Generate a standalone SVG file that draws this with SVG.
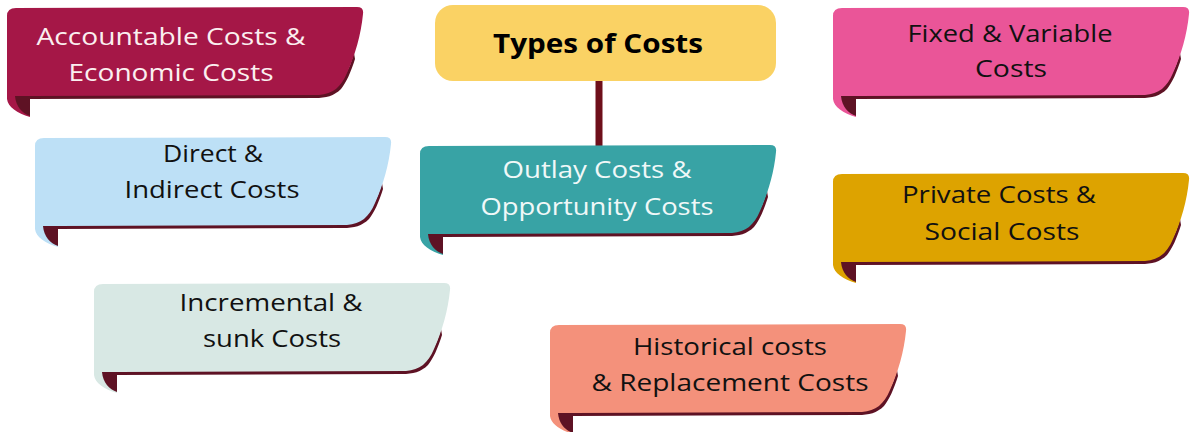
<svg xmlns="http://www.w3.org/2000/svg" xmlns:xlink="http://www.w3.org/1999/xlink" width="1191" height="432" viewBox="0 0 1191 432">
<style>
.t{font-family:"Open Sans","Liberation Sans",sans-serif;font-size:24px;text-anchor:middle;fill:#111;}
.w{fill:#FBEFF0;}
.title{font-family:"Open Sans","Liberation Sans",sans-serif;font-size:27px;font-weight:bold;text-anchor:middle;fill:#000;}
.dark{fill:#5E1224;}
</style>
<defs>
<g id="banner">
<path class="dark" d="M8,87 L312,86 C324,85 332,78 337,70 C342,62 345,53 347,46 L348,52 C344,65 339,76 334,82 C327,89 319,91 308,91 L23,92 L8,91 Z"/>
<path d="M0,9 Q0,1 9,1 L350,0 Q357,0 356,7 C354,28 348,48 340,66 C334,80 326,87 312,88 L23,89 L23,110 C10,106 1,100 0,92 Z"/>
<path class="dark" d="M8,89 C9,100 15,106 23,109 L23,89 Z"/>
</g>
</defs>
<rect width="1191" height="432" fill="#ffffff"/>
<g id="connectors">
<line x1="599" y1="80" x2="599" y2="150" stroke="#6E0F1A" stroke-width="7"/>
</g>
<g id="node-title">
<rect x="435" y="5" width="341" height="76" rx="18" fill="#FAD264"/>
<text class="title" x="598" y="53" textLength="210" lengthAdjust="spacingAndGlyphs">Types of Costs</text>
</g>
<g id="node-accountable">
<use xlink:href="#banner" href="#banner" transform="translate(7,7)" fill="#A51747"/>
<text class="t w" x="171" y="45" textLength="269" lengthAdjust="spacingAndGlyphs">Accountable Costs &amp;</text>
<text class="t w" x="171" y="81" textLength="205" lengthAdjust="spacingAndGlyphs">Economic Costs</text>
</g>
<g id="node-fixed">
<use xlink:href="#banner" href="#banner" transform="translate(833,7)" fill="#EA5598"/>
<text class="t" x="1010" y="42" textLength="205" lengthAdjust="spacingAndGlyphs">Fixed &amp; Variable</text>
<text class="t" x="1011" y="77" textLength="72" lengthAdjust="spacingAndGlyphs">Costs</text>
</g>
<g id="node-direct">
<use xlink:href="#banner" href="#banner" transform="translate(35,137)" fill="#BDE0F6"/>
<text class="t" x="213" y="162" textLength="100" lengthAdjust="spacingAndGlyphs">Direct &amp;</text>
<text class="t" x="212" y="198" textLength="175" lengthAdjust="spacingAndGlyphs">Indirect Costs</text>
</g>
<g id="node-outlay">
<use xlink:href="#banner" href="#banner" transform="translate(420,145)" fill="#38A3A5"/>
<text class="t" style="fill:#F0F8F8" x="597" y="178" textLength="189" lengthAdjust="spacingAndGlyphs">Outlay Costs &amp;</text>
<text class="t" style="fill:#F0F8F8" x="597" y="215" textLength="233" lengthAdjust="spacingAndGlyphs">Opportunity Costs</text>
</g>
<g id="node-private">
<use xlink:href="#banner" href="#banner" transform="translate(833,173)" fill="#DDA300"/>
<text class="t" x="999" y="203" textLength="194" lengthAdjust="spacingAndGlyphs">Private Costs &amp;</text>
<text class="t" x="1002" y="240" textLength="155" lengthAdjust="spacingAndGlyphs">Social Costs</text>
</g>
<g id="node-incremental">
<use xlink:href="#banner" href="#banner" transform="translate(94,283)" fill="#D8E8E4"/>
<text class="t" x="271" y="311" textLength="183" lengthAdjust="spacingAndGlyphs">Incremental &amp;</text>
<text class="t" x="272" y="347" textLength="138" lengthAdjust="spacingAndGlyphs">sunk Costs</text>
</g>
<g id="node-historical">
<use xlink:href="#banner" href="#banner" transform="translate(550,324)" fill="#F4917B"/>
<text class="t" x="730" y="355" textLength="194" lengthAdjust="spacingAndGlyphs">Historical costs</text>
<text class="t" x="730" y="391" textLength="277" lengthAdjust="spacingAndGlyphs">&amp; Replacement Costs</text>
</g>
</svg>
